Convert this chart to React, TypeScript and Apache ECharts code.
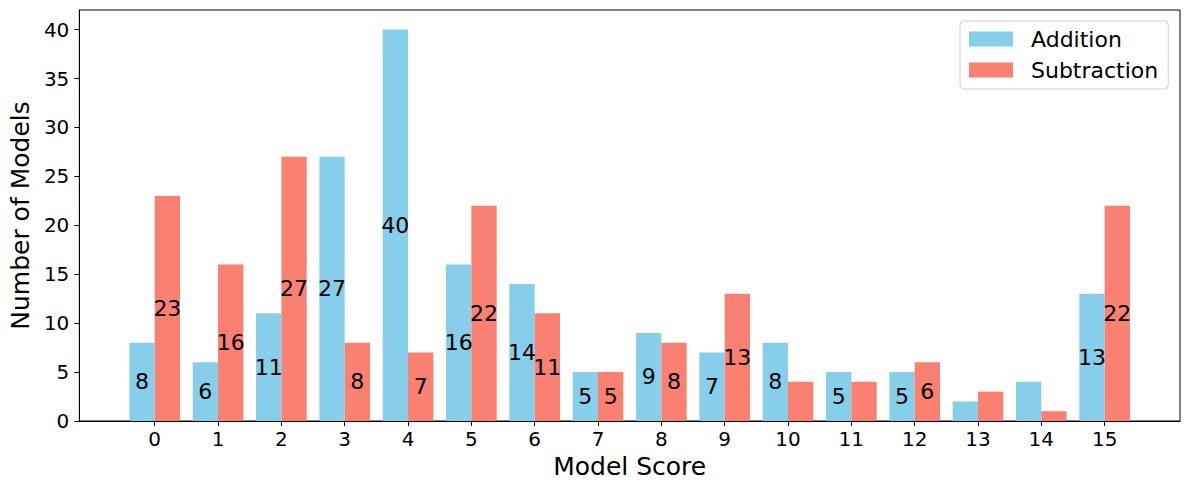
import React, { useEffect, useRef } from "react";
import * as echarts from "echarts";

const categories = [0, 1, 2, 3, 4, 5, 6, 7, 8, 9, 10, 11, 12, 13, 14, 15];
const additionValues = [8, 6, 11, 27, 40, 16, 14, 5, 9, 7, 8, 5, 5, 2, 4, 13];
const subtractionValues = [23, 16, 27, 8, 7, 22, 11, 5, 8, 13, 4, 4, 6, 3, 1, 22];
const yTicks = [0, 5, 10, 15, 20, 25, 30, 35, 40];
const seriesNames = ["Addition", "Subtraction"];

const FONT = "DejaVu Sans";
const LABEL_MIN = 5;
const BAR_W = 0.4;

function makeSeries(name: string, values: number[], color: string, offset: number) {
  return {
    type: "custom",
    name,
    itemStyle: { color },
    data: categories.map((c, i) => [c, values[i]]),
    encode: { x: 0, y: 1 },
    renderItem: (params: any, api: any) => {
      const x = api.value(0) as number;
      const v = api.value(1) as number;
      const tl = api.coord([x + offset - BAR_W / 2, v]);
      const br = api.coord([x + offset + BAR_W / 2, 0]);
      const mid = api.coord([x + offset, v / 2]);
      const children: any[] = [
        {
          type: "rect",
          shape: { x: tl[0], y: tl[1], width: br[0] - tl[0], height: br[1] - tl[1] },
          style: { fill: color },
        },
      ];
      if (v >= LABEL_MIN) {
        children.push({
          type: "text",
          style: {
            text: String(v),
            x: mid[0],
            y: mid[1],
            align: "center",
            verticalAlign: "middle",
            fontSize: 22,
            fontFamily: FONT,
            fill: "#000",
          },
          z2: 10,
        });
      }
      return { type: "group", children };
    },
  };
}

export default function App() {
  const ref = useRef<HTMLDivElement>(null);
  useEffect(() => {
    if (!ref.current) return;
    const chart = echarts.init(ref.current, undefined, { renderer: "svg" });
    chart.setOption({
      animation: false,
      backgroundColor: "#fff",
      textStyle: { fontFamily: FONT },
      grid: {
        left: 78,
        top: 10,
        right: 9,
        bottom: 69,
        show: true,
        borderColor: "#000",
        borderWidth: 1,
        backgroundColor: "transparent",
      },
      legend: {
        data: seriesNames,
        orient: "vertical",
        left: 960,
        top: 21,
        icon: "rect",
        itemWidth: 44,
        itemHeight: 15,
        itemGap: 9,
        padding: [7, 10, 8, 9],
        borderColor: "#d0d0d0",
        borderWidth: 1,
        borderRadius: 4,
        textStyle: {
          fontSize: 22,
          fontFamily: FONT,
          color: "#000",
          lineHeight: 22,
          padding: [0, 0, 0, 13],
        },
      },
      xAxis: {
        type: "value",
        min: -1.19,
        max: 16.19,
        name: "Model Score",
        nameLocation: "middle",
        nameGap: 33,
        nameTextStyle: { fontSize: 25, fontFamily: FONT, color: "#000" },
        splitLine: { show: false },
        axisLine: { show: true, onZero: false, lineStyle: { color: "#000", width: 1 } },
        axisTick: {
          show: true,
          length: 5,
          lineStyle: { color: "#000" },
          customValues: categories,
        },
        axisLabel: {
          fontSize: 20,
          fontFamily: FONT,
          color: "#000",
          margin: 8,
          customValues: categories,
          formatter: (v: number) => String(Math.round(v)),
        },
      },
      yAxis: {
        type: "value",
        min: 0,
        max: 42,
        name: "Number of Models",
        nameLocation: "middle",
        nameRotate: 90,
        nameGap: 46,
        nameTextStyle: { fontSize: 25, fontFamily: FONT, color: "#000" },
        splitLine: { show: false },
        axisLine: { show: true, onZero: false, lineStyle: { color: "#000", width: 1 } },
        axisTick: {
          show: true,
          length: 5,
          lineStyle: { color: "#000" },
          customValues: yTicks,
        },
        axisLabel: {
          fontSize: 20,
          fontFamily: FONT,
          color: "#000",
          margin: 10,
          customValues: yTicks,
        },
      },
      series: [
        makeSeries(seriesNames[0], additionValues, "#87CEEB", -0.2),
        makeSeries(seriesNames[1], subtractionValues, "#FA8072", 0.2),
      ],
    });
    return () => chart.dispose();
  }, []);
  return (
    <div
      ref={ref}
      style={{ position: "fixed", left: 0, top: 0, width: 1189, height: 490 }}
    />
  );
}
